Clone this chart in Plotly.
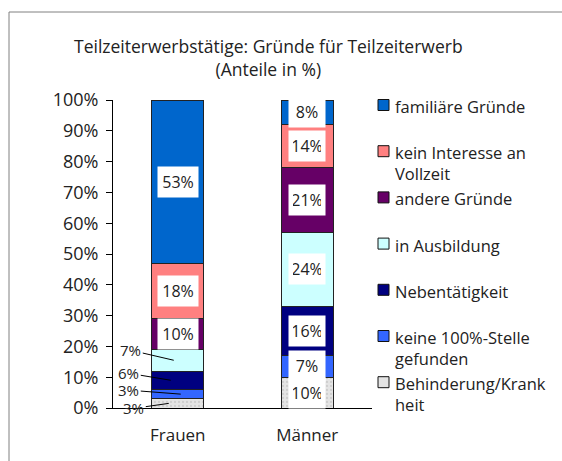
import plotly.graph_objects as go

categories = ["Frauen", "Männer"]
series_names = [
    "Behinderung/Krank<br>heit",
    "keine 100%-Stelle<br>gefunden",
    "Nebentätigkeit",
    "in Ausbildung",
    "andere Gründe",
    "kein Interesse an<br>Vollzeit",
    "familiäre Gründe",
]
frauen = [3, 3, 6, 7, 10, 18, 53]
maenner = [10, 7, 16, 24, 21, 14, 8]
colors = ["#E4E4E4", "#3366FF", "#000080", "#CCFFFF", "#660066", "#FF8080", "#0066CC"]
y_ticks = [0, 10, 20, 30, 40, 50, 60, 70, 80, 90, 100]
title_text = "Teilzeiterwerbstätige: Gründe für Teilzeiterwerb<br>(Anteile in %)"

# outside label offsets (pixels) for small Frauen values: (xshift tip, ax, ay)
outside_offsets = {0: (-9, -35, 5), 1: (3, -52, -4), 2: (-7, -42, -7), 3: (-4, -43, -10)}

FONT = "Open Sans"
W, H = 562, 461
L, R, T, B = 113, 372, 100, 408


def px_x(p):
    return (p - L) / (R - L)


def px_y(p):
    return (B - p) / (B - T)


fig = go.Figure()
values = {"Frauen": frauen, "Männer": maenner}
for i, name in enumerate(series_names):
    fig.add_trace(go.Bar(
        x=categories,
        y=[frauen[i], maenner[i]],
        name=name,
        marker=dict(
            color=colors[i],
            line=dict(color="#222222", width=1),
            pattern=dict(shape=".", fgcolor="#B8B8B8", bgcolor=colors[i], size=4, solidity=0.25) if i == 0 else None,
        ),
        showlegend=False,
        hoverinfo="skip",
    ))

annotations = []
for cat in categories:
    vals = values[cat]
    cum = 0
    for i, v in enumerate(vals):
        mid = cum + v / 2
        cum += v
        if cat == "Frauen" and i in outside_offsets:
            xs, ax, ay = outside_offsets[i]
            annotations.append(dict(
                x=cat, y=mid, xref="x", yref="y", text=f"{v}%",
                showarrow=True, arrowhead=0, arrowwidth=1, arrowcolor="#000000",
                ax=ax, ay=ay, xshift=xs, standoff=0,
                font=dict(family=FONT, size=15, color="#222222"),
            ))
        else:
            annotations.append(dict(
                x=cat, y=mid, xref="x", yref="y", text=f"{v}%",
                showarrow=False, bgcolor="#FFFFFF",
                width=32 if cat == "Frauen" else 28, borderpad=4,
                font=dict(family=FONT, size=16, color="#222222"),
            ))

# title
annotations.append(dict(
    x=px_x(268), y=px_y(58), xref="paper", yref="paper", text=title_text,
    showarrow=False, xanchor="center", yanchor="middle",
    font=dict(family=FONT, size=17.5, color="#222222"),
))

# manual legend (top item first)
shapes = []
legend_order = list(range(len(series_names)))[::-1]
for k, i in enumerate(legend_order):
    cy = 105 + k * 46.2
    shapes.append(dict(
        type="rect", xref="paper", yref="paper",
        x0=px_x(378), x1=px_x(389), y0=px_y(cy - 5.5), y1=px_y(cy + 5.5),
        fillcolor=colors[i], line=dict(color="#111111", width=1),
    ))
    annotations.append(dict(
        x=px_x(393), y=px_y(cy - 12), xref="paper", yref="paper",
        text=series_names[i], showarrow=False, xanchor="left", yanchor="top",
        align="left", font=dict(family=FONT, size=16.5, color="#222222"),
    ))

# outer frame
shapes.append(dict(
    type="rect", xref="paper", yref="paper",
    x0=px_x(9), x1=px_x(580), y0=px_y(480), y1=px_y(12),
    line=dict(color="#808080", width=1), fillcolor="rgba(0,0,0,0)", layer="below",
))

fig.update_layout(
    width=W, height=H,
    margin=dict(l=L, r=W - R, t=T, b=H - B),
    barmode="stack", bargap=0.6,
    plot_bgcolor="#FFFFFF", paper_bgcolor="#FFFFFF",
    showlegend=False,
    annotations=annotations, shapes=shapes,
    font=dict(family=FONT, size=15, color="#222222"),
    xaxis=dict(
        showline=True, linecolor="#000000", linewidth=1, ticks="",
        tickfont=dict(family=FONT, size=17, color="#222222"),
        ticklabelstandoff=12,
        showgrid=False, zeroline=False, fixedrange=True,
    ),
    yaxis=dict(
        range=[0, 100], tickvals=y_ticks, ticktext=[f"{t}%" for t in y_ticks],
        showline=True, linecolor="#000000", linewidth=1,
        ticks="outside", ticklen=6, tickcolor="#000000",
        tickfont=dict(family=FONT, size=18, color="#222222"),
        ticklabelstandoff=4,
        showgrid=False, zeroline=False, fixedrange=True,
    ),
)

fig.write_html(
    "out.html",
    config={"displayModeBar": False},
    post_script="document.body.style.margin='0';document.body.style.overflow='hidden';",
)
